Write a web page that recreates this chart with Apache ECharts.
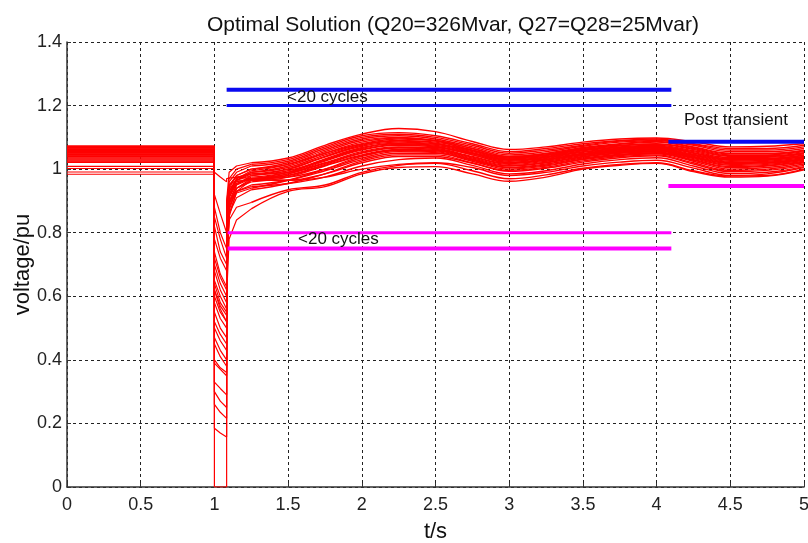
<!DOCTYPE html>
<html>
<head>
  <meta charset="utf-8">
  <title>Optimal Solution</title>
  <script src="https://cdn.jsdelivr.net/npm/echarts@6/dist/echarts.min.js"></script>
  <style>
    body { margin: 0; background: #fff; }
  </style>
</head>
<body>
  <div id="container" style="height: 543px; width: 808px"></div>
  <script>
    // bus voltages
    const preFault = [1.073, 1.071, 1.068, 1.066, 1.064, 1.062, 1.060, 1.058, 1.056, 1.054,
      1.052, 1.050, 1.048, 1.046, 1.044, 1.042, 1.040, 1.038, 1.035, 1.032,
      1.029, 1.026, 1.023, 1.021, 1.009, 1.002, 0.991, 0.984];

    const faultTimes = [1, 1.04, 1.083];
    const faultV = [
      [0.72, 0.66, 0.62], [0.68, 0.62, 0.58], [0, 0, 0], [0.60, 0.55, 0.52], [0.50, 0.46, 0.43],
      [0.45, 0.41, 0.38], [0.78, 0.72, 0.68], [0.65, 0.60, 0.56], [0.39, 0.37, 0.35], [0.62, 0.57, 0.54],
      [0.26, 0.235, 0.216], [0.70, 0.64, 0.60], [0.55, 0.50, 0.47], [0.185, 0.17, 0.157], [0.82, 0.74, 0.70],
      [0.58, 0.53, 0.50], [0.33, 0.31, 0.29], [0.74, 0.67, 0.63], [0.52, 0.48, 0.45], [0.30, 0.27, 0.25],
      [0.88, 0.80, 0.75], [0.64, 0.58, 0.55], [0.47, 0.43, 0.40], [0.92, 0.86, 0.80], [0.85, 0.78, 0.72],
      [0.99, 0.975, 0.96], [0.62, 0.56, 0.52], [0.40, 0.375, 0.36]
    ];

    const postTimes = [1.083, 1.1, 1.15, 1.25, 1.5, 1.75, 2.0, 2.25, 2.5, 2.75, 3.0, 3.25, 3.5, 3.75, 4.0, 4.25, 4.5, 4.75, 5.0];
    const postV = [
      [0.86, 0.97, 1.00, 1.015, 1.03, 1.07, 1.105, 1.115, 1.105, 1.08, 1.055, 1.065, 1.08, 1.09, 1.095, 1.08, 1.065, 1.065, 1.075],
      [0.84, 0.96, 0.99, 1.01, 1.025, 1.065, 1.10, 1.11, 1.10, 1.075, 1.05, 1.06, 1.075, 1.088, 1.092, 1.078, 1.06, 1.06, 1.07],
      [0.90, 0.99, 1.01, 1.02, 1.035, 1.075, 1.11, 1.128, 1.118, 1.087, 1.062, 1.07, 1.085, 1.095, 1.098, 1.086, 1.07, 1.072, 1.08],
      [0.80, 0.94, 0.98, 1.0, 1.02, 1.06, 1.095, 1.105, 1.095, 1.07, 1.045, 1.055, 1.072, 1.085, 1.09, 1.075, 1.055, 1.055, 1.065],
      [0.76, 0.92, 0.97, 0.995, 1.015, 1.055, 1.09, 1.10, 1.09, 1.065, 1.04, 1.05, 1.068, 1.08, 1.087, 1.07, 1.05, 1.05, 1.06],
      [0.74, 0.91, 0.965, 0.99, 1.01, 1.05, 1.085, 1.098, 1.088, 1.06, 1.035, 1.045, 1.065, 1.078, 1.085, 1.068, 1.048, 1.048, 1.058],
      [0.85, 0.95, 0.98, 1.0, 1.015, 1.05, 1.08, 1.095, 1.09, 1.065, 1.04, 1.048, 1.065, 1.075, 1.08, 1.065, 1.045, 1.045, 1.055],
      [0.80, 0.93, 0.97, 0.99, 1.005, 1.045, 1.078, 1.09, 1.085, 1.06, 1.038, 1.045, 1.062, 1.073, 1.078, 1.062, 1.042, 1.042, 1.052],
      [0.70, 0.89, 0.95, 0.98, 1.0, 1.04, 1.075, 1.088, 1.082, 1.058, 1.035, 1.043, 1.06, 1.07, 1.075, 1.058, 1.04, 1.04, 1.05],
      [0.78, 0.92, 0.965, 0.985, 1.0, 1.038, 1.072, 1.085, 1.08, 1.055, 1.032, 1.04, 1.058, 1.068, 1.072, 1.055, 1.036, 1.037, 1.048],
      [0.66, 0.87, 0.94, 0.97, 0.99, 1.032, 1.068, 1.082, 1.078, 1.052, 1.03, 1.038, 1.055, 1.066, 1.07, 1.052, 1.033, 1.034, 1.045],
      [0.82, 0.93, 0.965, 0.98, 0.995, 1.03, 1.065, 1.08, 1.075, 1.05, 1.028, 1.036, 1.053, 1.064, 1.068, 1.05, 1.03, 1.032, 1.043],
      [0.76, 0.91, 0.955, 0.975, 0.99, 1.028, 1.062, 1.078, 1.072, 1.048, 1.025, 1.034, 1.05, 1.062, 1.066, 1.047, 1.028, 1.03, 1.04],
      [0.62, 0.85, 0.93, 0.965, 0.985, 1.025, 1.06, 1.075, 1.07, 1.045, 1.022, 1.032, 1.048, 1.06, 1.064, 1.045, 1.025, 1.028, 1.038],
      [0.86, 0.95, 0.975, 0.985, 0.99, 1.02, 1.055, 1.07, 1.068, 1.045, 1.02, 1.03, 1.047, 1.058, 1.062, 1.043, 1.022, 1.025, 1.036],
      [0.75, 0.90, 0.95, 0.97, 0.985, 1.018, 1.052, 1.068, 1.065, 1.04, 1.018, 1.028, 1.045, 1.056, 1.06, 1.04, 1.02, 1.022, 1.034],
      [0.70, 0.88, 0.94, 0.965, 0.98, 1.015, 1.05, 1.066, 1.062, 1.038, 1.015, 1.025, 1.043, 1.054, 1.058, 1.038, 1.018, 1.02, 1.032],
      [0.82, 0.92, 0.955, 0.97, 0.98, 1.012, 1.045, 1.062, 1.06, 1.035, 1.012, 1.022, 1.04, 1.052, 1.056, 1.036, 1.015, 1.018, 1.03],
      [0.72, 0.89, 0.94, 0.96, 0.975, 1.01, 1.042, 1.06, 1.058, 1.032, 1.01, 1.02, 1.038, 1.05, 1.054, 1.033, 1.012, 1.015, 1.028],
      [0.66, 0.86, 0.925, 0.94, 0.965, 1.0, 1.04, 1.058, 1.055, 1.03, 1.006, 1.016, 1.035, 1.047, 1.052, 1.03, 1.008, 1.012, 1.025],
      [0.88, 0.94, 0.96, 0.97, 0.975, 1.0, 1.035, 1.055, 1.052, 1.028, 1.004, 1.013, 1.032, 1.045, 1.05, 1.028, 1.005, 1.01, 1.022],
      [0.76, 0.88, 0.93, 0.95, 0.965, 0.995, 1.03, 1.05, 1.05, 1.025, 1.0, 1.01, 1.03, 1.043, 1.048, 1.025, 1.0, 1.005, 1.02],
      [0.70, 0.86, 0.91, 0.935, 0.955, 0.985, 1.025, 1.045, 1.045, 1.02, 0.996, 1.006, 1.026, 1.04, 1.045, 1.02, 0.996, 1.0, 1.016],
      [0.90, 0.95, 0.965, 0.965, 0.965, 0.985, 1.02, 1.04, 1.04, 1.018, 0.993, 1.003, 1.022, 1.036, 1.042, 1.016, 0.992, 0.996, 1.012],
      [0.82, 0.90, 0.93, 0.945, 0.955, 0.975, 1.01, 1.03, 1.035, 1.012, 0.985, 0.995, 1.016, 1.03, 1.036, 1.01, 0.986, 0.99, 1.008],
      [0.97, 0.972, 0.975, 0.97, 0.965, 0.975, 1.0, 1.015, 1.02, 1.005, 0.98, 0.99, 1.01, 1.022, 1.028, 1.003, 0.98, 0.985, 1.005],
      [0.72, 0.84, 0.88, 0.895, 0.935, 0.95, 0.99, 1.012, 1.018, 0.995, 0.97, 0.982, 1.003, 1.015, 1.02, 0.995, 0.978, 0.98, 1.0],
      [0.60, 0.78, 0.84, 0.875, 0.93, 0.945, 0.985, 1.005, 1.008, 0.985, 0.962, 0.975, 1.0, 1.012, 1.018, 0.992, 0.975, 0.978, 0.998]
    ];

    // limit lines: [value, from, to]
    const upperLimits = [[1.25, 1.083, 4.1], [1.2, 1.083, 4.1]];
    const lowerLimits = [[0.8, 1.09, 4.1], [0.75, 1.09, 4.1]];
    const postUpper = [1.086, 4.08, 5];
    const postLower = [0.947, 4.08, 5];

    const xTicks = { min: 0, max: 5, interval: 0.5 };
    const yTicks = { min: 0, max: 1.4, interval: 0.2 };

    const series = [];
    const red = '#ff0000';
    preFault.forEach(function (v0, i) {
      const f = faultV[i];
      const p = postV[i];
      const head = [[0, v0], [1, v0]];
      faultTimes.forEach(function (t, k) { head.push([t, f[k]]); });
      for (let k = 0; k <= 3; k++) head.push([postTimes[k], p[k]]);
      series.push({
        type: 'line', data: head, symbol: 'none', silent: true,
        lineStyle: { color: red, width: 1.2 }
      });
      const tail = [];
      for (let k = 3; k < postTimes.length; k++) tail.push([postTimes[k], p[k]]);
      series.push({
        type: 'line', data: tail, symbol: 'none', smooth: 0.4, silent: true,
        lineStyle: { color: red, width: 1.4 }
      });
    });

    function limitLine(l, color, width) {
      return {
        type: 'line', data: [[l[1], l[0]], [l[2], l[0]]], symbol: 'none', silent: true,
        lineStyle: { color: color, width: width }, z: 5
      };
    }
    series.push(limitLine(upperLimits[0], '#0a0af0', 4));
    series.push(limitLine(upperLimits[1], '#0a0af0', 3));
    series.push(limitLine(lowerLimits[0], '#ff00ff', 3));
    series.push(limitLine(lowerLimits[1], '#ff00ff', 4));
    series.push(limitLine(postUpper, '#0a0af0', 4));
    series.push(limitLine(postLower, '#ff00ff', 4));

    const font = 'Liberation Sans, Arial, sans-serif';
    const tickFont = { color: '#222', fontSize: 18, fontFamily: font };
    const gridLine = { show: true, lineStyle: { color: '#222', width: 1, type: [3, 3] } };

    const chart = echarts.init(document.getElementById('container'));
    chart.setOption({
      animation: false,
      backgroundColor: '#ffffff',
      title: {
        text: 'Optimal Solution (Q20=326Mvar, Q27=Q28=25Mvar)',
        left: 448, top: 10, textAlign: 'center',
        textStyle: { color: '#111', fontSize: 21, fontWeight: 'normal', fontFamily: font }
      },
      grid: { left: 67, right: 4, top: 42, bottom: 56, containLabel: false, outerBoundsMode: 'none' },
      xAxis: {
        type: 'value', min: xTicks.min, max: xTicks.max, interval: xTicks.interval,
        name: 't/s', nameLocation: 'middle', nameGap: 34, nameMoveOverlap: false,
        nameTextStyle: { color: '#111', fontSize: 22, fontFamily: font },
        axisLine: { show: true, onZero: false, lineStyle: { color: '#333', width: 1.5 } },
        axisTick: { show: true, inside: true, length: 4, lineStyle: { color: '#333' } },
        axisLabel: Object.assign({ margin: 9 }, tickFont),
        splitLine: gridLine
      },
      yAxis: {
        type: 'value', min: yTicks.min, max: yTicks.max, interval: yTicks.interval,
        name: 'voltage/pu', nameLocation: 'middle', nameGap: 33, nameMoveOverlap: false,
        nameTextStyle: { color: '#111', fontSize: 22, fontFamily: font },
        axisLine: { show: true, onZero: false, lineStyle: { color: '#333', width: 1.5 } },
        axisTick: { show: true, inside: true, length: 4, lineStyle: { color: '#333' } },
        axisLabel: Object.assign({ margin: 5 }, tickFont),
        splitLine: gridLine
      },
      graphic: [
        { type: 'text', left: 287, top: 89, z: 10, style: { text: '<20 cycles', fill: '#111', fontSize: 17, fontFamily: font } },
        { type: 'text', left: 298, top: 231, z: 10, style: { text: '<20 cycles', fill: '#111', fontSize: 17, fontFamily: font } },
        { type: 'text', left: 684, top: 112, z: 10, style: { text: 'Post transient', fill: '#111', fontSize: 17, fontFamily: font } }
      ],
      series: series
    });
  </script>
</body>
</html>
